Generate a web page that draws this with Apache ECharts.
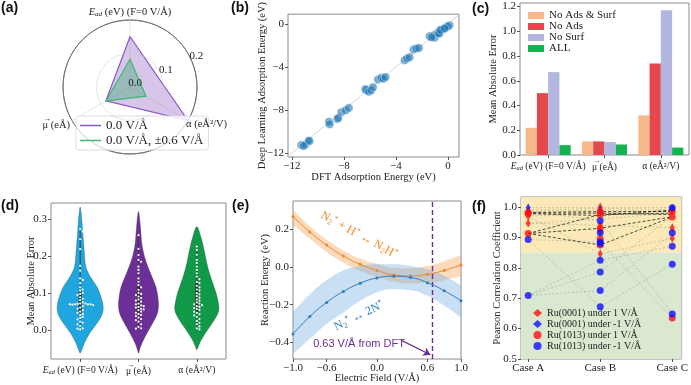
<!DOCTYPE html>
<html>
<head>
<meta charset="utf-8">
<script src="https://cdn.jsdelivr.net/npm/echarts@6.0.0/dist/echarts.min.js"></script>
<style>
html, body { margin: 0; padding: 0; background: #fff; }
#chart { width: 691px; height: 385px; }
</style>
</head>
<body>
<div id="chart"></div>
<script>
var SERIF = '"Liberation Serif", "DejaVu Serif", serif';
var SANS = '"Liberation Sans", Arial, sans-serif';
var INK = '#222';
var FRAME = '#8a8a8a';

// ---- (a) radar ----
var radarNames = ['{it|E}{sub|ad} (eV) (F=0 V/Å)', '{ar|→}\nμ (eÅ)', 'α (eÅ²/V)'];
var radarAngles = [66, 186, 306];            // 90°, 210°, 330° on screen (startAngle 24)
var radarZeroField = [0.15, 0.083, 0.2];
var radarAllField = [0.083, 0.083, 0.055];

// ---- (b) parity plot ----
var dftE = [-11.28, -10.95, -10.64, -10.7, -11.1, -9.15, -9.1, -8.51, -8.44, -8.2, -7.87, -7.62,
  -6.36, -6.28, -6.08, -5.9, -5.77, -5.38, -5.13, -4.95, -4.8, -3.33, -3.15, -2.95, -2.64, -2.44,
  -2.23, -1.41, -1.15, -1.03, -0.9, -0.77, -0.64, -0.51, -0.38, -0.69, -0.18, 0.13, 0.0, -1.26, -0.59, -0.26];
var dlE = [-11.25, -11.2, -10.9, -10.85, -11.34, -9.1, -9.33, -8.84, -8.76, -8.21, -8.04, -7.81,
  -6.06, -6.14, -6.32, -6.17, -5.89, -5.17, -5.02, -5.11, -4.94, -3.39, -3.22, -3.1, -2.38, -2.3,
  -2.24, -1.15, -1.09, -1.29, -0.92, -0.86, -0.8, -0.63, -0.52, -0.92, -0.34, -0.14, -0.23, -1.26, -0.57, -0.43];
var parityMin = -12.3, parityMax = 0.85;

// ---- (c) ablation bars ----
var propCats = ['Ead', 'mu', 'alpha'];
var noAdsSurf = [0.22, 0.11, 0.32];
var noAds = [0.50, 0.11, 0.74];
var noSurf = [0.67, 0.105, 1.17];
var allFeat = [0.08, 0.085, 0.06];

// ---- (d) violins ----
var violinLevels = [
  [-0.062, -0.053, -0.036, -0.009, 0.018, 0.041, 0.063, 0.091, 0.118, 0.145, 0.172, 0.217, 0.262, 0.298, 0.333],
  [-0.062, -0.050, -0.036, -0.009, 0.018, 0.041, 0.063, 0.091, 0.118, 0.145, 0.172, 0.199, 0.235, 0.280, 0.321],
  [-0.053, -0.045, -0.032, -0.009, 0.013, 0.036, 0.054, 0.072, 0.100, 0.127, 0.154, 0.181, 0.217, 0.253, 0.280]
];
var violinHalfWidth = [
  [0, 0.029, 0.069, 0.16, 0.286, 0.372, 0.395, 0.355, 0.286, 0.172, 0.097, 0.069, 0.046, 0.029, 0],
  [0, 0.025, 0.057, 0.143, 0.24, 0.314, 0.343, 0.332, 0.297, 0.229, 0.16, 0.103, 0.057, 0.034, 0],
  [0, 0.025, 0.057, 0.143, 0.24, 0.332, 0.377, 0.372, 0.332, 0.274, 0.217, 0.172, 0.126, 0.069, 0]
];
var violinDots = [
  [0.273, 0.267, 0.246, 0.219, 0.174, 0.161, 0.14, 0.136, 0.127, 0.116, 0.11, 0.107, 0.101, 0.098, 0.095,
   0.089, 0.085, 0.081, 0.075, 0.072, 0.07, 0.07, 0.071, 0.069, 0.07, 0.068, 0.072, 0.07, 0.065, 0.061,
   0.058, 0.054, 0.05, 0.047, 0.044, 0.041, 0.036, 0.033, 0.029, 0.023, 0.02, 0.016, 0.011, 0.005, 0.004, 0.002],
  [0.257, 0.22, 0.203, 0.19, 0.185, 0.172, 0.163, 0.154, 0.14, 0.131, 0.122, 0.116, 0.109, 0.101, 0.098,
   0.095, 0.091, 0.087, 0.083, 0.08, 0.077, 0.072, 0.07, 0.067, 0.065, 0.063, 0.061, 0.058, 0.056, 0.054,
   0.05, 0.047, 0.044, 0.041, 0.038, 0.034, 0.03, 0.027, 0.023, 0.016, 0.009, 0.005, 0.004],
  [0.226, 0.217, 0.204, 0.19, 0.182, 0.172, 0.163, 0.154, 0.145, 0.138, 0.13, 0.127, 0.12, 0.116, 0.11,
   0.107, 0.1, 0.097, 0.092, 0.088, 0.083, 0.08, 0.075, 0.072, 0.07, 0.068, 0.065, 0.063, 0.06, 0.057,
   0.054, 0.05, 0.047, 0.043, 0.04, 0.036, 0.03, 0.025, 0.02, 0.016, 0.01, 0.005, 0.002]
];
var violinColors = ['#1fa6df', '#6c2f97', '#11994a'];

// ---- (e) reaction energy vs field ----
var field = [-1.0, -0.8, -0.6, -0.4, -0.2, 0.0, 0.2, 0.4, 0.6, 0.8, 1.0];
var n2hMid = [0.268, 0.186, 0.116, 0.058, 0.014, -0.018, -0.042, -0.047, -0.039, -0.018, 0.01];
var n2hUp = [0.303, 0.216, 0.146, 0.087, 0.044, 0.017, -0.004, -0.007, 0.005, 0.031, 0.063];
var n2hLow = [0.224, 0.150, 0.080, 0.022, -0.021, -0.053, -0.077, -0.088, -0.082, -0.070, -0.048];
var dissMid = [-0.355, -0.263, -0.188, -0.13, -0.086, -0.058, -0.049, -0.056, -0.083, -0.126, -0.179];
var dissUp = [-0.241, -0.144, -0.07, -0.018, 0.005, 0.014, 0.014, 0.005, -0.012, -0.047, -0.1];
var dissLow = [-0.46, -0.381, -0.302, -0.241, -0.179, -0.135, -0.118, -0.123, -0.153, -0.205, -0.267];
var dftField = 0.66;

// ---- (f) Pearson correlation ----
var cases = ['Case A', 'Case B', 'Case C'];
var darkLines = [
  [0.913, 0.875, 0.967], [0.913, 0.93, 0.968], [0.913, 0.975, 0.98],
  [0.98, 0.98, 0.975], [0.982, 0.985, 0.985], [0.978, 0.972, 0.99]
];
var greyLines = [
  [0.998, 0.998, 0.998], [0.99, 0.995, 0.992], [0.985, 0.99, 0.985], [0.97, 0.98, 0.988],
  [0.947, 0.96, 0.98], [0.985, 0.955, 0.648], [0.709, 0.825, 0.871], [0.709, 0.786, 0.97],
  [0.709, 0.725, 0.912], [0.893, 0.672, 0.812], [0.893, 0.885, 0.635], [0.97, 0.846, 0.897],
  [0.947, 0.94, 0.932]
];
var ru0001Pos = [[0, 0.985], [0, 0.97], [0, 0.947], [1, 1.0], [1, 0.94], [1, 0.92], [1, 0.846], [2, 0.99], [2, 0.932], [2, 0.897]];
var ru0001Neg = [[0, 0.998], [1, 0.99], [2, 0.995]];
var ru1013Pos = [[0, 0.978], [0, 0.982], [0, 0.913], [1, 0.985], [1, 0.975], [1, 0.93], [1, 0.895], [1, 0.875], [2, 0.985], [2, 0.967], [2, 0.635]];
var ru1013Neg = [[0, 0.893], [0, 0.709], [1, 0.955], [1, 0.915], [1, 0.885], [1, 0.88], [1, 0.825], [1, 0.786], [1, 0.725], [1, 0.672],
  [2, 0.998], [2, 0.915], [2, 0.871], [2, 0.812], [2, 0.648]];

function makeRich(size) {
  return {
    it: { fontStyle: 'italic', fontFamily: SERIF, fontSize: size, color: INK, fill: INK },
    sub: { fontStyle: 'italic', fontFamily: SERIF, fontSize: size * 0.68, color: INK, fill: INK, padding: [Math.round(size * 0.45), 0, 0, 0] },
    ar: { fontFamily: SERIF, fontSize: size * 0.75, color: INK, fill: INK, align: 'left', lineHeight: 1, padding: [0, 0, 0, 1] }
  };
}
var propLabels = {
  Ead: '{it|E}{sub|ad} (eV) (F=0 V/Å)',
  mu: '{ar|→}\nμ (eÅ)',
  alpha: 'α (eÅ²/V)'
};

function minus(v, d) {
  var s = Math.abs(v).toFixed(d);
  return (v < -1e-9 ? '\u2212' : '') + s;
}

function frameAxis(opts) {
  var base = {
    type: 'value',
    axisLine: { show: false, onZero: false },
    axisTick: { show: true, length: 3, lineStyle: { color: '#555' } },
    axisLabel: { fontFamily: SERIF, fontSize: 11, color: INK, margin: 4, hideOverlap: false, showMinLabel: true, showMaxLabel: true },
    splitLine: { show: false },
    nameLocation: 'middle',
    nameMoveOverlap: false,
    nameTextStyle: { fontFamily: SERIF, fontSize: 10.5, color: INK }
  };
  return echarts.util.merge(base, opts, true);
}

var grids = [
  { left: 288, top: 3, width: 171, height: 154 },
  { left: 520, top: 3, width: 169, height: 152 },
  { left: 51, top: 203, width: 175, height: 156 },
  { left: 293, top: 201, width: 168, height: 159 },
  { left: 521, top: 197, width: 169, height: 162 }
].map(function (g) {
  g.show = true; g.borderColor = FRAME; g.borderWidth = 1; g.backgroundColor = 'transparent';
  return g;
});

function swarm(values, api, cx) {
  var pts = values.map(function (v) { return api.coord([cx, v]); });
  var placed = [];
  var d = 2.6;
  pts.sort(function (a, b) { return a[1] - b[1]; });
  pts.forEach(function (p) {
    for (var k = 0; k < 40; k++) {
      var off = (k % 2 === 1 ? 1 : -1) * Math.ceil(k / 2) * d;
      var x = p[0] + off, ok = true;
      for (var j = 0; j < placed.length; j++) {
        var dx = placed[j][0] - x, dy = placed[j][1] - p[1];
        if (dx * dx + dy * dy < d * d) { ok = false; break; }
      }
      if (ok) { placed.push([x, p[1]]); break; }
    }
  });
  return placed;
}

function quantile(arr, q) {
  var s = arr.slice().sort(function (a, b) { return a - b; });
  var pos = (s.length - 1) * q, lo = Math.floor(pos), hi = Math.ceil(pos);
  return s[lo] + (s[hi] - s[lo]) * (pos - lo);
}

var series = [];

// (a) radar via polar
series.push({
  type: 'custom', coordinateSystem: 'polar', polarIndex: 0, silent: true, z: 1,
  data: [[0, 0]],
  renderItem: function (params, api) {
    return {
      type: 'group',
      children: radarAngles.map(function (a) {
        var p0 = api.coord([0, a]), p1 = api.coord([0.2, a]);
        return { type: 'line', shape: { x1: p0[0], y1: p0[1], x2: p1[0], y2: p1[1] }, style: { stroke: '#e6e6e6', lineWidth: 1 } };
      })
    };
  }
});
function radarPoly(vals, fill, stroke) {
  return function (params, api) {
    var pts = vals.map(function (v, i) { return api.coord([v, radarAngles[i]]); });
    return { type: 'polygon', shape: { points: pts }, style: { fill: fill, stroke: stroke, lineWidth: 1.2 } };
  };
}
series.push({
  type: 'custom', name: '0.0 V/Å', coordinateSystem: 'polar', polarIndex: 0, z: 2,
  itemStyle: { color: '#8a55c4' }, data: [[0, 0]],
  renderItem: radarPoly(radarZeroField, 'rgba(160,120,205,0.42)', '#8a55c4')
});
series.push({
  type: 'custom', name: '0.0 V/Å, ±0.6 V/Å', coordinateSystem: 'polar', polarIndex: 0, z: 3,
  itemStyle: { color: '#3fba6c' }, data: [[0, 0]],
  renderItem: radarPoly(radarAllField, 'rgba(70,170,120,0.42)', '#3fba6c')
});
series.push({
  type: 'custom', coordinateSystem: 'polar', polarIndex: 0, silent: true, z: 4,
  data: [[0, 0]],
  renderItem: function (params, api) {
    var p = radarAngles.map(function (a) { return api.coord([0.2, a]); });
    var st = { fontFamily: SERIF, fontSize: 10.5, fill: INK, rich: makeRich(10.5) };
    return {
      type: 'group',
      children: [
        { type: 'text', x: p[0][0], y: p[0][1] - 2, style: echarts.util.extend({ text: radarNames[0], align: 'center', verticalAlign: 'bottom' }, st) },
        { type: 'text', x: p[1][0] - 2, y: p[1][1] + 4, style: echarts.util.extend({ text: radarNames[1], align: 'right', verticalAlign: 'middle' }, st) },
        { type: 'text', x: p[2][0] - 2, y: p[2][1] + 4, style: echarts.util.extend({ text: radarNames[2], align: 'left', verticalAlign: 'middle' }, st) }
      ]
    };
  }
});

// (b) parity
series.push({
  type: 'line', xAxisIndex: 0, yAxisIndex: 0, silent: true, symbol: 'none',
  data: [[parityMin, parityMin], [parityMax, parityMax]],
  lineStyle: { color: '#d4d4d4', width: 1 }, z: 1
});
series.push({
  type: 'scatter', xAxisIndex: 0, yAxisIndex: 0, symbolSize: 8.5,
  data: dftE.map(function (x, i) { return [x, dlE[i]]; }),
  itemStyle: { color: 'rgba(31,119,180,0.75)', borderColor: 'rgba(255,255,255,0.8)', borderWidth: 0.6 }, z: 2
});

// (c) bars
[['No Ads & Surf', noAdsSurf, '#f7b98c'], ['No Ads', noAds, '#e4474e'],
 ['No Surf', noSurf, '#b3b7df'], ['ALL', allFeat, '#17b152']].forEach(function (b) {
  series.push({
    type: 'bar', name: b[0], xAxisIndex: 1, yAxisIndex: 1, data: b[1],
    itemStyle: { color: b[2] }, barGap: '0%', barCategoryGap: '20%'
  });
});

// (d) violins
series.push({
  type: 'custom', xAxisIndex: 2, yAxisIndex: 2, silent: true,
  data: [0, 1, 2],
  renderItem: function (params, api) {
    var i = params.dataIndex;
    var lv = violinLevels[i], hw = violinHalfWidth[i];
    var right = [], left = [];
    for (var k = 0; k < lv.length; k++) {
      right.push(api.coord([i + hw[k], lv[k]]));
      if (k > 0 && k < lv.length - 1) left.push(api.coord([i - hw[k], lv[k]]));
    }
    var pts = right.concat(left.reverse());
    var dots = violinDots[i];
    var q1 = quantile(dots, 0.25), q3 = quantile(dots, 0.75);
    var lo = Math.min.apply(null, dots), hi = Math.max.apply(null, dots);
    var wLo = api.coord([i, lo]), wHi = api.coord([i, hi]);
    var bLo = api.coord([i, q1]), bHi = api.coord([i, q3]);
    var children = [
      { type: 'polygon', shape: { points: pts, smooth: 0.35 }, style: { fill: violinColors[i], stroke: 'rgba(60,60,60,0.5)', lineWidth: 0.6 } },
      { type: 'line', shape: { x1: wLo[0], y1: wLo[1], x2: wHi[0], y2: wHi[1] }, style: { stroke: '#3a3a3a', lineWidth: 1 } },
      { type: 'line', shape: { x1: bLo[0], y1: bLo[1], x2: bHi[0], y2: bHi[1] }, style: { stroke: '#2f2f2f', lineWidth: 3 } }
    ];
    swarm(dots, api, i).forEach(function (p) {
      children.push({ type: 'circle', shape: { cx: p[0], cy: p[1], r: 1.1 }, style: { fill: '#fff' } });
    });
    return { type: 'group', children: children };
  }
});

// (e) bands (stacked on a hidden category axis) and curves
function pairs(xs, ys) { return xs.map(function (x, i) { return [x, ys[i]]; }); }
function diffs(up, low) { return up.map(function (u, i) { return u - low[i]; }); }
[['n2h', n2hLow, n2hUp, 'rgba(245,160,80,0.38)'], ['diss', dissLow, dissUp, 'rgba(120,175,225,0.40)']].forEach(function (b) {
  series.push({
    type: 'line', xAxisIndex: 5, yAxisIndex: 3, stack: b[0], stackStrategy: 'all', smooth: true, symbol: 'none', silent: true,
    data: b[1], lineStyle: { opacity: 0 }
  });
  series.push({
    type: 'line', xAxisIndex: 5, yAxisIndex: 3, stack: b[0], stackStrategy: 'all', smooth: true, symbol: 'none', silent: true,
    data: diffs(b[2], b[1]), lineStyle: { opacity: 0 }, areaStyle: { color: b[3], opacity: 1 }
  });
});
series.push({
  type: 'line', xAxisIndex: 3, yAxisIndex: 3, smooth: true, symbol: 'circle', symbolSize: 3,
  data: pairs(field, n2hMid), lineStyle: { color: '#f0862a', width: 1 }, itemStyle: { color: '#f0862a' }, z: 5,
  markLine: {
    silent: true, symbol: 'none', label: { show: false },
    lineStyle: { color: '#6b2d90', type: [5, 3], width: 1.4 },
    data: [{ xAxis: dftField }]
  }
});
series.push({
  type: 'line', xAxisIndex: 3, yAxisIndex: 3, smooth: true, symbol: 'circle', symbolSize: 3,
  data: pairs(field, dissMid), lineStyle: { color: '#2e7dbf', width: 1 }, itemStyle: { color: '#2e7dbf' }, z: 5,
  markLine: {
    silent: true, symbol: ['none', 'arrow'], symbolSize: 7, label: { show: false },
    lineStyle: { color: '#6b2d90', type: 'solid', width: 1.2 },
    data: [[{ coord: [0.286, -0.388] }, { coord: [0.635, -0.465] }]]
  }
});

// (f) background, lines, markers
series.push({
  type: 'line', xAxisIndex: 4, yAxisIndex: 4, data: [], silent: true,
  markArea: {
    silent: true,
    data: [
      [{ yAxis: 0.85, itemStyle: { color: '#fbeab8' } }, { yAxis: 1.04 }],
      [{ yAxis: 0.5, itemStyle: { color: '#dae8d0' } }, { yAxis: 0.85 }]
    ]
  }
});
greyLines.forEach(function (l) {
  series.push({
    type: 'line', xAxisIndex: 4, yAxisIndex: 4, symbol: 'none', silent: true, z: 2,
    data: l.map(function (v, i) { return [i, v]; }),
    lineStyle: { color: 'rgba(110,110,110,0.4)', width: 0.8, type: [2, 2] }
  });
});
darkLines.forEach(function (l) {
  series.push({
    type: 'line', xAxisIndex: 4, yAxisIndex: 4, symbol: 'none', silent: true, z: 3,
    data: l.map(function (v, i) { return [i, v]; }),
    lineStyle: { color: 'rgba(20,20,20,0.75)', width: 1, type: [3, 2] }
  });
});
[['Ru(0001) under 1 V/Å', ru0001Pos, '#ff1010', 'diamond', [5, 9]],
 ['Ru(0001) under -1 V/Å', ru0001Neg, '#1010ff', 'diamond', [5, 9]],
 ['Ru(1013) under 1 V/Å', ru1013Pos, '#ff1010', 'circle', 7],
 ['Ru(1013) under -1 V/Å', ru1013Neg, '#1010ff', 'circle', 7]].forEach(function (m) {
  series.push({
    type: 'scatter', name: m[0], xAxisIndex: 4, yAxisIndex: 4, data: m[1], z: 6,
    symbol: m[3], symbolSize: m[4], itemStyle: { color: m[2] }
  });
});

var catRich = makeRich(9.5);

var option = {
  backgroundColor: '#fff',
  animation: false,
  title: [['(a)', 1, 1], ['(b)', 231, 1], ['(c)', 472, 2], ['(d)', 1, 199], ['(e)', 232, 199], ['(f)', 472, 200]].map(function (t) {
    return { text: t[0], left: t[1], top: t[2], padding: 0, textStyle: { fontFamily: SANS, fontWeight: 'bold', fontSize: 14, color: '#111' } };
  }),
  polar: { center: [130, 87], radius: 67 },
  angleAxis: {
    type: 'value', min: 0, max: 360, startAngle: 24, clockwise: false,
    axisLine: { show: true, lineStyle: { color: '#222', width: 1 } },
    axisTick: { show: false }, axisLabel: { show: false }, splitLine: { show: false }
  },
  radiusAxis: {
    type: 'value', min: 0, max: 0.2, interval: 0.1, z: 10,
    axisLine: { show: false }, axisTick: { show: false },
    axisLabel: { fontFamily: SERIF, fontSize: 11, color: INK, margin: 4, align: 'left', verticalAlign: 'middle',
      formatter: function (v) { return v.toFixed(1); } },
    splitLine: { show: true, lineStyle: { color: 'rgba(200,200,200,0.45)' } }
  },
  grid: grids,
  xAxis: [
    frameAxis({ gridIndex: 0, min: parityMin, max: parityMax, name: 'DFT Adsorption Energy (eV)', nameGap: 15,
      axisTick: { customValues: [-12, -8, -4, 0] },
      axisLabel: { customValues: [-12, -8, -4, 0], formatter: function (v) { return minus(v, 0); } } }),
    frameAxis({ gridIndex: 1, type: 'category', data: propCats,
      axisTick: { alignWithLabel: true },
      axisLabel: { fontSize: 9.5, margin: 6, interval: 0, rich: catRich, formatter: function (v) { return propLabels[v]; } } }),
    frameAxis({ gridIndex: 2, min: -0.5, max: 2.5,
      axisTick: { customValues: [0, 1, 2] },
      axisLabel: { customValues: [0, 1, 2], fontSize: 9.5, margin: 6, rich: catRich, formatter: function (v) { return propLabels[propCats[Math.round(v)]]; } } }),
    frameAxis({ gridIndex: 3, min: -1, max: 1, name: 'Electric Field (V/Å)', nameGap: 14,
      axisTick: { customValues: [-1, -0.6, 0, 0.6, 1] },
      axisLabel: { customValues: [-1, -0.6, 0, 0.6, 1], formatter: function (v) { return minus(v, 1); } } }),
    frameAxis({ gridIndex: 4, min: -0.1, max: 2.13,
      axisTick: { customValues: [0, 1, 2] },
      axisLabel: { customValues: [0, 1, 2], formatter: function (v) { return cases[Math.round(v)]; } } }),
    { gridIndex: 3, type: 'category', data: field.map(String), boundaryGap: false, show: false }
  ],
  yAxis: [
    frameAxis({ gridIndex: 0, min: -12.37, max: 0.89, name: 'Deep Learning Adsorption Energy (eV)', nameGap: 20,
      axisTick: { customValues: [-12, -8, -4, 0] },
      axisLabel: { customValues: [-12, -8, -4, 0], formatter: function (v) { return minus(v, 0); } } }),
    frameAxis({ gridIndex: 1, min: 0, max: 1.2285, name: 'Mean Absolute Error', nameGap: 21,
      axisTick: { customValues: [0, 0.2, 0.4, 0.6, 0.8, 1.0, 1.2] },
      axisLabel: { customValues: [0, 0.2, 0.4, 0.6, 0.8, 1.0, 1.2], formatter: function (v) { return v.toFixed(1); } } }),
    frameAxis({ gridIndex: 2, min: -0.078, max: 0.344, name: 'Mean Absolute Error', nameGap: 14,
      axisTick: { customValues: [0, 0.1, 0.2, 0.3] },
      axisLabel: { customValues: [0, 0.1, 0.2, 0.3], formatter: function (v) { return v.toFixed(1); } } }),
    frameAxis({ gridIndex: 3, min: -0.488, max: 0.35, name: 'Reaction Energy (eV)', nameGap: 22,
      axisTick: { customValues: [-0.4, -0.2, 0, 0.2] },
      axisLabel: { customValues: [-0.4, -0.2, 0, 0.2], formatter: function (v) { return minus(v, 1); } } }),
    frameAxis({ gridIndex: 4, min: 0.5, max: 1.033, name: 'Pearson Correlation Coefficient', nameGap: 18,
      axisTick: { customValues: [0.5, 0.6, 0.7, 0.8, 0.9, 1.0] },
      axisLabel: { customValues: [0.5, 0.6, 0.7, 0.8, 0.9, 1.0], formatter: function (v) { return v.toFixed(1); } } })
  ],
  legend: [
    {
      data: ['0.0 V/Å', '0.0 V/Å, ±0.6 V/Å'], left: 76, top: 116, orient: 'vertical',
      icon: 'rect', itemWidth: 21, itemHeight: 1.5, itemGap: 2, padding: [3, 5, 3, 4],
      borderColor: '#ddd', borderWidth: 1, borderRadius: 3, backgroundColor: 'rgba(255,255,255,0.85)',
      textStyle: { fontFamily: SERIF, fontSize: 13, color: INK }
    },
    {
      data: ['No Ads & Surf', 'No Ads', 'No Surf', 'ALL'], left: 526, top: 8, orient: 'vertical',
      icon: 'rect', itemWidth: 16, itemHeight: 7, itemGap: 0, padding: 2,
      textStyle: { fontFamily: SERIF, fontSize: 11, color: INK }
    },
    {
      data: [
        { name: 'Ru(0001) under 1 V/Å', icon: 'diamond' },
        { name: 'Ru(0001) under -1 V/Å', icon: 'diamond' },
        { name: 'Ru(1013) under 1 V/Å', icon: 'circle' },
        { name: 'Ru(1013) under -1 V/Å', icon: 'circle' }
      ],
      left: 531, top: 306, orient: 'vertical', itemWidth: 9, itemHeight: 8, itemGap: 1, padding: 2,
      textStyle: { fontFamily: SERIF, fontSize: 10, color: INK }
    }
  ],
  graphic: [
    { type: 'text', x: 359, y: 235, rotation: -0.5, silent: true, z: 10,
      style: { text: 'N{s|2}{p|*} + H{p|*} ↔ N{s|2}H{p|*}', align: 'center', verticalAlign: 'middle',
        fontFamily: SERIF, fontSize: 12, fill: '#f0862a',
        rich: { s: { fontSize: 8, fill: '#f0862a', fontFamily: SERIF, padding: [6, 0, 0, 0] }, p: { fontSize: 8, fill: '#f0862a', fontFamily: SERIF, padding: [0, 0, 6, 0] } } } },
    { type: 'text', x: 359, y: 316, rotation: 0.45, silent: true, z: 10,
      style: { text: 'N{s|2}{p|*} ↔ 2N{p|*}', align: 'center', verticalAlign: 'middle',
        fontFamily: SERIF, fontSize: 12, fill: '#2e7dbf',
        rich: { s: { fontSize: 8, fill: '#2e7dbf', fontFamily: SERIF, padding: [6, 0, 0, 0] }, p: { fontSize: 8, fill: '#2e7dbf', fontFamily: SERIF, padding: [0, 0, 6, 0] } } } },
    { type: 'text', x: 359, y: 344, silent: true, z: 10,
      style: { text: '0.63 V/Å from DFT', align: 'center', verticalAlign: 'middle', fontFamily: SANS, fontSize: 11, fill: '#6b2d90' } }
  ],
  series: series
};

var chart = echarts.init(document.getElementById('chart'));
chart.setOption(option);
</script>
</body>
</html>
